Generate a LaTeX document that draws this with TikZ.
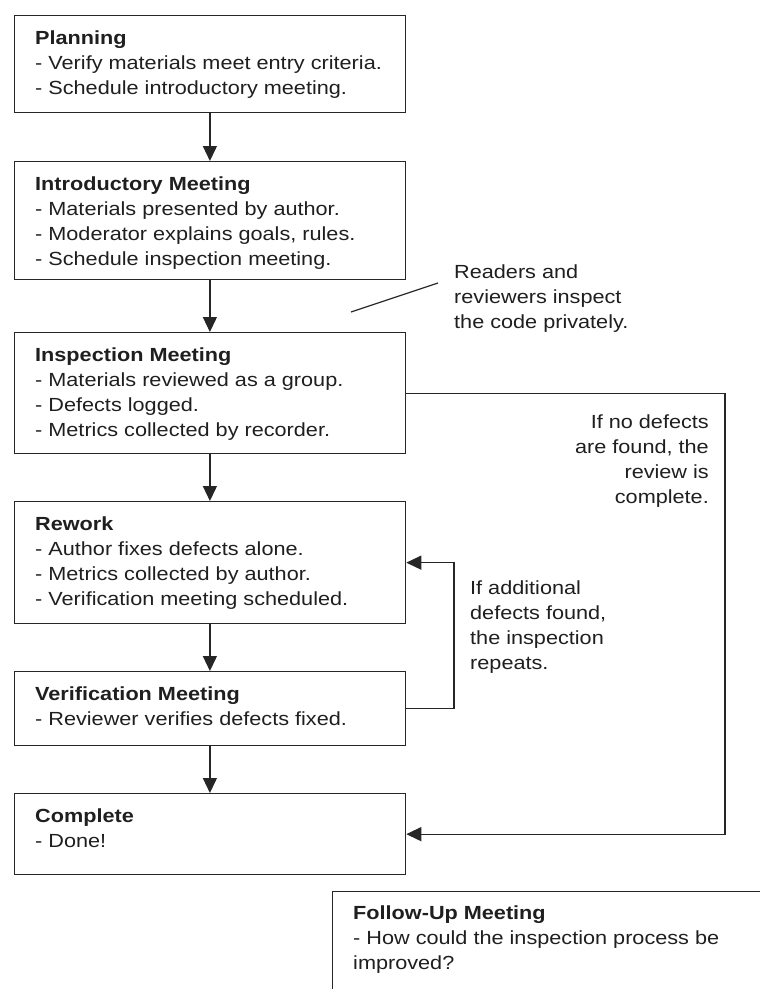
\documentclass[tikz,border=0pt]{standalone}
\usepackage{fontspec}
\setmainfont{Liberation Sans}[FakeStretch=1.14]
\usetikzlibrary{arrows.meta}
\begin{document}
\begin{tikzpicture}[x=1pt,y=-1pt,
  box/.style={draw=black!85, line width=1.3pt, rectangle, inner sep=0pt, minimum width=391.5pt, anchor=north west},
  txt/.style={font=\fontsize{19}{25}\selectfont, align=left, inner sep=0pt, anchor=north west, text=black!88},
  rtxt/.style={txt, align=right, anchor=north east},
  conn/.style={draw=black!85, line width=1.3pt, -{Triangle[width=14pt,length=15pt]}},
  plain/.style={draw=black!85, line width=1.2pt}]
\clip (0,0) rectangle (760,989);
\fill[white] (0,0) rectangle (760,989);
% boxes
\node[box, minimum height=97pt]  (plan)     at (13.5,15)  {};
\node[box, minimum height=118pt] (intro)    at (13.5,161) {};
\node[box, minimum height=121pt] (insp)     at (13.5,332) {};
\node[box, minimum height=122pt] (rework)   at (13.5,501) {};
\node[box, minimum height=74pt]  (verif)    at (13.5,671) {};
\node[box, minimum height=81pt]  (complete) at (13.5,793) {};
\node[box, minimum width=450pt, minimum height=120pt] (follow) at (332,891) {};
% box texts
\node[txt] (tplan) at ([shift={(21.5,16)}]plan.north west)
  {\textbf{Planning}\\- Verify materials meet entry criteria.\\- Schedule introductory meeting.};
\node[txt] (tintro) at ([shift={(21.5,16)}]intro.north west)
  {\textbf{Introductory Meeting}\\- Materials presented by author.\\- Moderator explains goals, rules.\\- Schedule inspection meeting.};
\node[txt] (tinsp) at ([shift={(21.5,16)}]insp.north west)
  {\textbf{Inspection Meeting}\\- Materials reviewed as a group.\\- Defects logged.\\- Metrics collected by recorder.};
\node[txt] (trework) at ([shift={(21.5,16)}]rework.north west)
  {\textbf{Rework}\\- Author fixes defects alone.\\- Metrics collected by author.\\- Verification meeting scheduled.};
\node[txt] (tverif) at ([shift={(21.5,16)}]verif.north west)
  {\textbf{Verification Meeting}\\- Reviewer verifies defects fixed.};
\node[txt] (tcomplete) at ([shift={(21.5,16)}]complete.north west)
  {\textbf{Complete}\\- Done!};
\node[txt] (tfollow) at ([shift={(21,15)}]follow.north west)
  {\textbf{Follow-Up Meeting}\\- How could the inspection process be\\improved?};
% annotations
\node[txt] (readers) at (454,264.5) {Readers and\\reviewers inspect\\the code privately.};
\node[rtxt] (nodef) at (709,415) {If no defects\\are found, the\\review is\\complete.};
\node[txt] (addl) at (470,581) {If additional\\defects found,\\the inspection\\repeats.};
% connectors
\draw[conn] (plan) -- (intro);
\draw[conn] (intro) -- (insp);
\draw[conn] (insp) -- (rework);
\draw[conn] (rework) -- (verif);
\draw[conn] (verif) -- (complete);
\coordinate (rr) at (725,0);
\coordinate (lr) at (454,0);
\draw[conn] (insp.east) -- (insp.east -| rr) |- (complete.east);
\draw[conn] (verif.east) -- (verif.east -| lr) |- (rework.east);
\coordinate (n1) at (351,312);
\coordinate (n2) at (438,283);
\draw[plain] (n1) -- (n2);
\end{tikzpicture}
\end{document}
